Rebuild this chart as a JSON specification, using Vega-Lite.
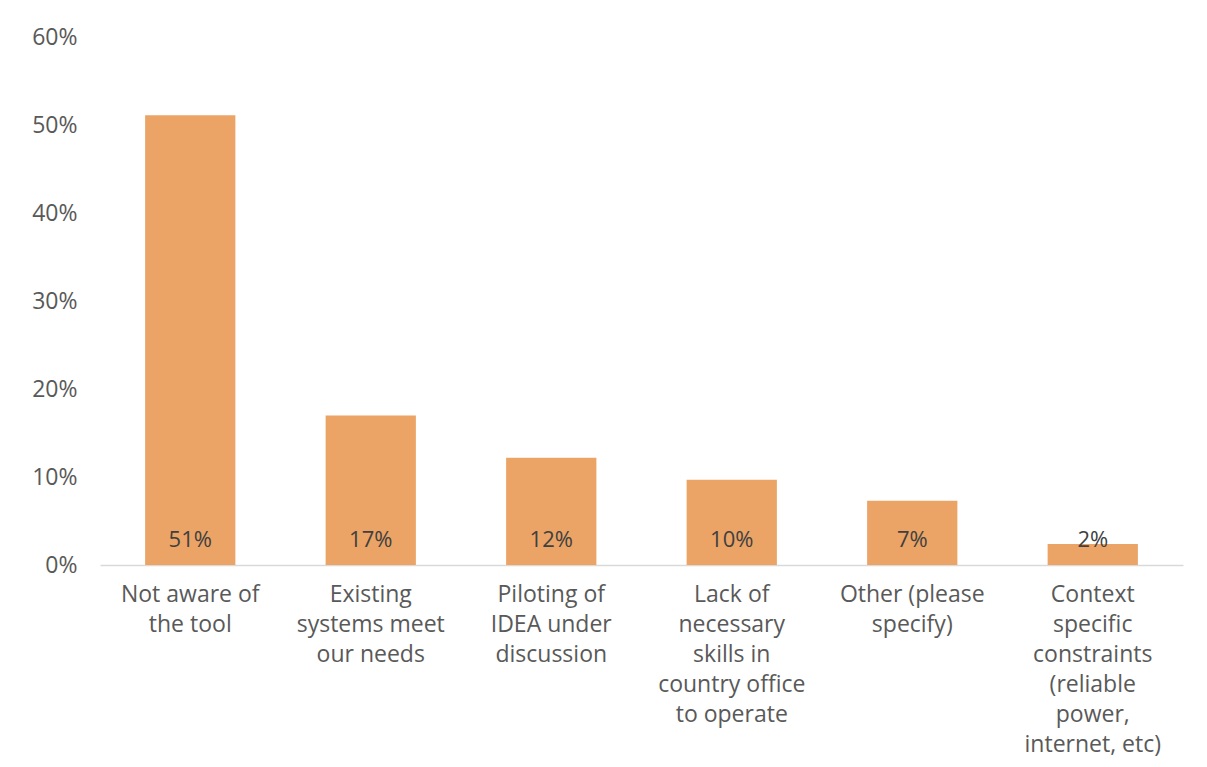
{
  "$schema": "https://vega.github.io/schema/vega-lite/v6.json",
  "width": 1083,
  "height": 528,
  "autosize": {"type": "none"},
  "padding": {"left": 100, "top": 37, "right": 24, "bottom": 202},
  "background": "white",
  "config": {"view": {"stroke": null}, "font": "Open Sans"},
  "data": {
    "values": [
      {"reason": "Not aware of the tool", "share": 0.511},
      {"reason": "Existing systems meet our needs", "share": 0.170},
      {"reason": "Piloting of IDEA under discussion", "share": 0.122},
      {"reason": "Lack of necessary skills in country office to operate", "share": 0.097},
      {"reason": "Other (please specify)", "share": 0.073},
      {"reason": "Context specific constraints (reliable power, internet, etc)", "share": 0.024}
    ]
  },
  "encoding": {
    "x": {
      "field": "reason",
      "type": "nominal",
      "sort": null,
      "scale": {"paddingInner": 0.5, "paddingOuter": 0.25},
      "axis": {
        "title": null,
        "labelAngle": 0,
        "ticks": false,
        "domainColor": "#d9d9d9",
        "domainWidth": 1.5,
        "labelPadding": 18,
        "labelFontSize": 23,
        "labelLineHeight": 30,
        "labelColor": "#595959",
        "labelBaseline": "top",
        "labelLimit": 0,
        "labelExpr": "{'Not aware of the tool': ['Not aware of', 'the tool'], 'Existing systems meet our needs': ['Existing', 'systems meet', 'our needs'], 'Piloting of IDEA under discussion': ['Piloting of', 'IDEA under', 'discussion'], 'Lack of necessary skills in country office to operate': ['Lack of', 'necessary', 'skills in', 'country office', 'to operate'], 'Other (please specify)': ['Other (please', 'specify)'], 'Context specific constraints (reliable power, internet, etc)': ['Context', 'specific', 'constraints', '(reliable', 'power,', 'internet, etc)']}[datum.value]"
      }
    }
  },
  "layer": [
    {
      "mark": {"type": "bar", "color": "#EBA466"},
      "encoding": {
        "y": {
          "field": "share",
          "type": "quantitative",
          "scale": {"domain": [0, 0.6]},
          "axis": {
            "title": null,
            "values": [0, 0.1, 0.2, 0.3, 0.4, 0.5, 0.6],
            "format": ".0%",
            "domain": false,
            "ticks": false,
            "grid": false,
            "labelPadding": 23,
            "labelFontSize": 23,
            "labelColor": "#595959"
          }
        }
      }
    },
    {
      "mark": {"type": "text", "dy": -25, "baseline": "middle", "fontSize": 22, "color": "#404040"},
      "encoding": {
        "y": {"datum": 0, "type": "quantitative"},
        "text": {"field": "share", "type": "quantitative", "format": ".0%"}
      }
    }
  ]
}
